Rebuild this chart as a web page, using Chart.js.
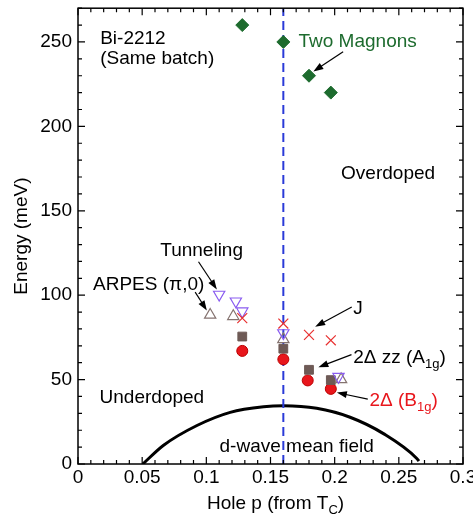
<!DOCTYPE html>
<html>
<head>
<meta charset="utf-8">
<script src="https://cdn.jsdelivr.net/npm/chart.js@4.4.1/dist/chart.umd.min.js"></script>
<style>
  html, body { margin: 0; padding: 0; background: #fff; }
</style>
</head>
<body>
<canvas id="chart" width="473" height="522"></canvas>
<script>
// Data (hole doping p, energy in meV)
const magnonP = [0.128, 0.16, 0.18, 0.197];
const magnonE = [260, 250, 230, 220];
const b1gP = [0.128, 0.16, 0.179, 0.197];
const b1gE = [67, 62, 49.5, 44.5];
const a1gP = [0.128, 0.16, 0.18, 0.197];
const a1gE = [75.5, 68.3, 55.8, 49.7];
const jP = [0.128, 0.16, 0.18, 0.197];
const jE = [86.4, 83.2, 76.5, 73.3];
const tunnelP = [0.110, 0.123, 0.128, 0.160, 0.203];
const tunnelE = [100.4, 96.4, 90.5, 77.6, 51.7];
const arpesP = [0.103, 0.121, 0.160, 0.205];
const arpesE = [88.3, 87.5, 73.8, 50.1];
const meanFieldP = [0.0505, 0.0667, 0.0927, 0.1186, 0.1446, 0.160, 0.186, 0.212, 0.238, 0.264, 0.2656];
const meanFieldE = [0, 11.1, 22.8, 30.6, 33.9, 34.5, 33.0, 27.7, 18.0, 3.3, 1.7];
const optimalP = [0.16, 0.16];
const optimalE = [0, 270];

// Tick labels
const xTicks = [0, 0.05, 0.1, 0.15, 0.2, 0.25, 0.3];
const yTicks = [0, 50, 100, 150, 200, 250];

// Colours
const GREEN = '#1d6b2e';
const RED = '#e8161c';
const FONT = '"Liberation Sans", Arial, Helvetica, sans-serif';

Chart.defaults.font.family = FONT;
Chart.defaults.font.size = 19;
Chart.defaults.color = '#000';

const pts = (xs, ys) => xs.map((x, i) => ({ x, y: ys[i] }));

// Text annotations, placed in data units (p, meV), left aligned
const notes = [
  { p: 0.0173, e: 251.9, parts: [{ t: 'Bi-2212' }] },
  { p: 0.0173, e: 239.9, parts: [{ t: '(Same batch)' }] },
  { p: 0.1718, e: 250.0, parts: [{ t: 'Two Magnons' }], color: GREEN },
  { p: 0.2050, e: 172.0, parts: [{ t: 'Overdoped' }] },
  { p: 0.0641, e: 126.4, parts: [{ t: 'Tunneling' }] },
  { p: 0.0117, e: 105.9, parts: [{ t: 'ARPES (\u03c0,0)' }] },
  { p: 0.2144, e: 91.9, parts: [{ t: 'J' }] },
  { p: 0.2144, e: 62.8, parts: [{ t: '2\u0394 zz (A' }, { t: '1g', sub: true }, { t: ')' }] },
  { p: 0.2271, e: 37.2, parts: [{ t: '2\u0394 (B' }, { t: '1g', sub: true }, { t: ')' }], color: RED },
  { p: 0.0168, e: 39.4, parts: [{ t: 'Underdoped' }] },
  { p: 0.1103, e: 10.1, parts: [{ t: 'd-wave mean field' }] },
];

// Arrows: from (p0,e0) to head at (p1,e1)
const arrows = [
  [0.2066, 244.2, 0.1834, 232.5],
  [0.0939, 119.8, 0.1082, 103.4],
  [0.0913, 101.8, 0.1004, 90.9],
  [0.2133, 93.0, 0.1848, 81.3],
  [0.2131, 64.8, 0.1873, 57.3],
  [0.2258, 38.4, 0.2017, 42.3],
];

function drawParts(ctx, parts, x, y, color) {
  let cx = x;
  ctx.fillStyle = color || '#000';
  ctx.textBaseline = 'middle';
  ctx.textAlign = 'left';
  parts.forEach(part => {
    ctx.font = (part.sub ? '13px ' : '19px ') + FONT;
    ctx.fillText(part.t, cx, y + (part.sub ? 6 : 0));
    cx += ctx.measureText(part.t).width;
  });
}

// Frame with inward ticks on all four sides
const framePlugin = {
  id: 'frame',
  afterDatasetsDraw(chart) {
    const { ctx, chartArea: a, scales: { x, y } } = chart;
    ctx.save();
    ctx.strokeStyle = '#000';
    ctx.lineWidth = 1.5;
    ctx.strokeRect(a.left, a.top, a.right - a.left, a.bottom - a.top);
    ctx.lineWidth = 1.2;
    ctx.beginPath();
    for (let i = 0; i <= 30; i++) {
      const px = x.getPixelForValue(i / 100);
      const len = i % 5 === 0 ? 7 : 4;
      ctx.moveTo(px, a.bottom); ctx.lineTo(px, a.bottom - len);
      ctx.moveTo(px, a.top); ctx.lineTo(px, a.top + len);
    }
    for (let v = 0; v <= 270; v += 10) {
      const py = y.getPixelForValue(v);
      const len = v % 50 === 0 ? 7 : 4;
      ctx.moveTo(a.left, py); ctx.lineTo(a.left + len, py);
      ctx.moveTo(a.right, py); ctx.lineTo(a.right - len, py);
    }
    ctx.stroke();
    ctx.restore();
  },
};

const notesPlugin = {
  id: 'notes',
  afterDraw(chart) {
    const { ctx, scales: { x, y } } = chart;
    ctx.save();
    notes.forEach(n => {
      drawParts(ctx, n.parts, x.getPixelForValue(n.p), y.getPixelForValue(n.e), n.color);
    });
    ctx.strokeStyle = '#000';
    ctx.fillStyle = '#000';
    ctx.lineWidth = 1.2;
    arrows.forEach(([p0, e0, p1, e1]) => {
      const x0 = x.getPixelForValue(p0), y0 = y.getPixelForValue(e0);
      const x1 = x.getPixelForValue(p1), y1 = y.getPixelForValue(e1);
      const ang = Math.atan2(y1 - y0, x1 - x0);
      const hl = 10, hw = 3.5;
      ctx.beginPath();
      ctx.moveTo(x0, y0);
      ctx.lineTo(x1 - Math.cos(ang) * hl * 0.8, y1 - Math.sin(ang) * hl * 0.8);
      ctx.stroke();
      ctx.beginPath();
      ctx.moveTo(x1, y1);
      ctx.lineTo(x1 - Math.cos(ang) * hl - Math.sin(ang) * hw, y1 - Math.sin(ang) * hl + Math.cos(ang) * hw);
      ctx.lineTo(x1 - Math.cos(ang) * hl + Math.sin(ang) * hw, y1 - Math.sin(ang) * hl - Math.cos(ang) * hw);
      ctx.closePath();
      ctx.fill();
    });
    // x axis title with subscript
    drawParts(ctx, [{ t: 'Hole p (from T' }, { t: 'C', sub: true }, { t: ')' }],
      x.getPixelForValue(0.1005), x.bottom - 18);
    ctx.restore();
  },
};

new Chart(document.getElementById('chart'), {
  type: 'scatter',
  data: {
    datasets: [
      {
        label: 'Two Magnons', data: pts(magnonP, magnonE), order: 1,
        pointStyle: 'rectRot', pointRadius: 6.5, backgroundColor: GREEN, borderColor: GREEN, borderWidth: 1,
      },
      {
        label: 'J', data: pts(jP, jE), order: 2,
        pointStyle: 'crossRot', pointRadius: 7, borderColor: '#e83030', borderWidth: 1.2,
      },
      {
        label: 'Tunneling', data: pts(tunnelP, tunnelE), order: 3,
        pointStyle: 'triangle', rotation: 180, pointRadius: 6.5, backgroundColor: 'rgba(0,0,0,0)',
        borderColor: '#8a5cf0', borderWidth: 1.2,
      },
      {
        label: 'ARPES', data: pts(arpesP, arpesE), order: 4,
        pointStyle: 'triangle', pointRadius: 6.5, backgroundColor: 'rgba(0,0,0,0)',
        borderColor: '#857370', borderWidth: 1.2,
      },
      {
        label: '2Δ zz (A1g)', data: pts(a1gP, a1gE), order: 5,
        pointStyle: 'rect', pointRadius: 6.2, backgroundColor: '#6e5a56', borderColor: '#6e5a56', borderWidth: 1,
      },
      {
        label: '2Δ (B1g)', data: pts(b1gP, b1gE), order: 6,
        pointStyle: 'circle', pointRadius: 5.5, backgroundColor: RED, borderColor: '#b00', borderWidth: 1,
      },
      {
        label: 'optimal doping', data: pts(optimalP, optimalE), order: 8, showLine: true,
        pointRadius: 0, borderColor: '#2a3ad8', borderWidth: 2, borderDash: [9, 5],
      },
      {
        label: 'd-wave mean field', data: pts(meanFieldP, meanFieldE), order: 9, showLine: true,
        pointRadius: 0, borderColor: '#000', borderWidth: 3, cubicInterpolationMode: 'monotone',
      },
    ],
  },
  options: {
    responsive: false,
    animation: false,
    devicePixelRatio: 1,
    layout: { padding: { left: 0, right: 10, top: 1.5, bottom: 0 } },
    plugins: { legend: { display: false }, tooltip: { enabled: false } },
    scales: {
      x: {
        type: 'linear', min: 0, max: 0.3,
        grid: { display: false, drawTicks: false }, border: { display: false },
        afterBuildTicks: (s) => { s.ticks = xTicks.map(v => ({ value: v })); },
        afterFit: (s) => { s.height = 58; s.paddingLeft = 0; s.paddingRight = 0; },
        ticks: { maxRotation: 0, autoSkip: false, padding: 2, callback: (v) => String(v) },
      },
      y: {
        type: 'linear', min: 0, max: 270,
        grid: { display: false, drawTicks: false }, border: { display: false },
        afterBuildTicks: (s) => { s.ticks = yTicks.map(v => ({ value: v })); },
        afterFit: (s) => { s.width = 78; s.paddingTop = 0; s.paddingBottom = 0; },
        ticks: { padding: 6, callback: (v) => String(v) },
        title: { display: true, text: 'Energy (meV)', padding: { top: 10, bottom: 0 } },
      },
    },
  },
  plugins: [framePlugin, notesPlugin],
});
</script>
</body>
</html>
